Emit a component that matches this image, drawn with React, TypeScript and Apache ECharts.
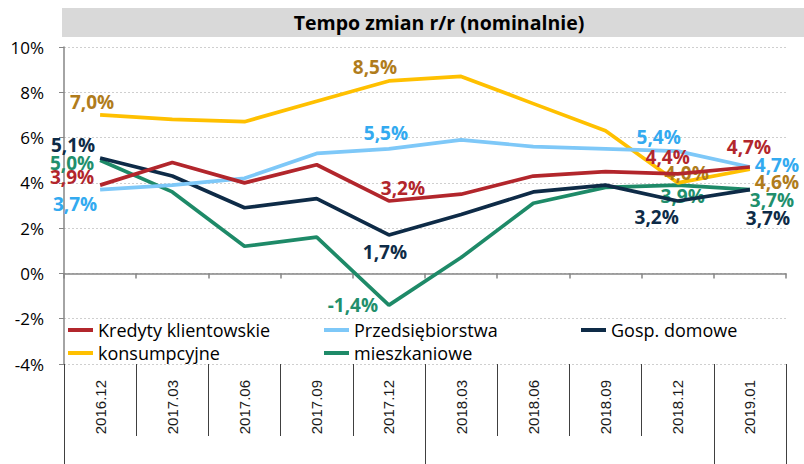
import React, { useEffect, useRef } from 'react';
import * as echarts from 'echarts';

const categories = ['2016.12', '2017.03', '2017.06', '2017.09', '2017.12', '2018.03', '2018.06', '2018.09', '2018.12', '2019.01'];
const yearStartIdx = [0, 5, 9];
const seriesNames = ['Kredyty klientowskie', 'Przedsiębiorstwa', 'Gosp. domowe', 'konsumpcyjne', 'mieszkaniowe'];
const kredyty = [3.9, 4.9, 4.0, 4.8, 3.2, 3.5, 4.3, 4.5, 4.4, 4.7];
const przedsiebiorstwa = [3.7, 3.9, 4.2, 5.3, 5.5, 5.9, 5.6, 5.5, 5.4, 4.7];
const gospDomowe = [5.1, 4.3, 2.9, 3.3, 1.7, 2.6, 3.6, 3.9, 3.2, 3.7];
const konsumpcyjne = [7.0, 6.8, 6.7, 7.6, 8.5, 8.7, 7.5, 6.3, 4.0, 4.6];
const mieszkaniowe = [5.0, 3.6, 1.2, 1.6, -1.4, 0.7, 3.1, 3.8, 3.9, 3.7];
const yMin = -4;
const yMax = 10;
const yStep = 2;
const titleText = 'Tempo zmian r/r (nominalnie)';

// label placement (style): index -> [dx, dy]
const labelOffsets: Record<number, [number, number]>[] = [
  { 0: [-28, -8], 4: [14, -13], 8: [-10, -17], 9: [-1, -20] },
  { 0: [-25, 14], 4: [-3, -16], 8: [-19, -14], 9: [27, -2] },
  { 0: [-27, -13], 4: [-4, 17], 8: [-21, 16], 9: [18, 28] },
  { 0: [-8, -13], 4: [-14, -14], 8: [9, -10], 9: [27, 13] },
  { 0: [-28, 3], 4: [-36, 0], 8: [5, 11], 9: [22, 10] },
];
const lineColors = ['#b2262c', '#7ec8f8', '#0e2b47', '#ffc000', '#1e8a68'];
const labelColors = ['#b2262c', '#33aaf0', '#0e2b47', '#b07c1c', '#218f6c'];
const legendPos = [
  { left: 68, top: 320 },
  { left: 324, top: 320 },
  { left: 581, top: 320 },
  { left: 68, top: 343 },
  { left: 324, top: 343 },
];

const FONT = 'Open Sans';

export default function App() {
  const ref = useRef<HTMLDivElement>(null);
  useEffect(() => {
    document.body.style.margin = '0';
    if (!ref.current) return;
    const chart = echarts.init(ref.current, null, { renderer: 'svg' });
    const values = [kredyty, przedsiebiorstwa, gospDomowe, konsumpcyjne, mieszkaniowe];
    const fmt = (v: number) => v.toFixed(1).replace('.', ',') + '%';
    const series = values.map((arr, si) => ({
      name: seriesNames[si],
      type: 'line',
      xAxisIndex: 0,
      yAxisIndex: 0,
      symbol: 'circle',
      symbolSize: 0.1,
      showSymbol: true,
      itemStyle: { color: lineColors[si] },
      lineStyle: { color: lineColors[si], width: 3.7 },
      label: { show: false },
      z: 10 - si,
      data: arr.map((v, i) => {
        const off = labelOffsets[si][i];
        if (!off) return { value: v };
        return {
          value: v,
          label: {
            show: true,
            position: 'inside',
            offset: off,
            formatter: () => fmt(v),
            color: labelColors[si],
            fontFamily: FONT,
            fontWeight: 'bold',
            fontSize: 19,
          },
        };
      }),
    }));
    const legends = seriesNames.map((n, i) => ({
      data: [{ name: n, icon: 'rect' }],
      left: legendPos[i].left,
      top: legendPos[i].top,
      itemWidth: 25,
      itemHeight: 4,
      padding: 0,
      selectedMode: false,
      textStyle: { fontFamily: FONT, fontSize: 18, lineHeight: 20, color: '#000', padding: [0, 0, 0, 0] },
    }));
    chart.setOption({
      animation: false,
      backgroundColor: '#fff',
      graphic: [
        { type: 'rect', shape: { x: 62, y: 8, width: 742, height: 29 }, style: { fill: '#d9d9d9' }, z: 0 },
        {
          type: 'text',
          x: 439,
          y: 22,
          style: {
            text: titleText,
            fill: '#000',
            font: `bold 19.5px "${FONT}"`,
            textAlign: 'center',
            textVerticalAlign: 'middle',
          },
          z: 1,
        },
      ],
      legend: legends,
      grid: { left: 64, right: 18, top: 47, bottom: 100, containLabel: false },
      xAxis: [
        {
          type: 'category',
          data: categories,
          axisLine: { show: true, onZero: true, lineStyle: { color: '#868686', width: 1.5 } },
          axisTick: { show: true, length: 5, interval: 0, lineStyle: { color: '#868686', width: 1.5 } },
          axisLabel: { show: false },
          splitLine: { show: false },
          z: 5,
        },
        {
          type: 'category',
          data: categories,
          position: 'bottom',
          axisLine: { show: false, onZero: false },
          axisTick: { show: true, length: 72, interval: 0, lineStyle: { color: '#404040', width: 1 } },
          axisLabel: { show: true, rotate: 90, margin: 16, interval: 0, fontFamily: 'Liberation Sans, Arial, sans-serif', fontSize: 15, color: '#1a1a1a' },
          splitLine: { show: false },
        },
        {
          type: 'category',
          data: categories,
          position: 'bottom',
          axisLine: { show: false, onZero: false },
          axisTick: {
            show: true,
            length: 100,
            interval: (i: number) => yearStartIdx.includes(i),
            lineStyle: { color: '#404040', width: 1 },
          },
          axisLabel: { show: false },
          splitLine: { show: false },
        },
      ],
      yAxis: {
        type: 'value',
        min: yMin,
        max: yMax,
        interval: yStep,
        axisLine: { show: true, lineStyle: { color: '#868686', width: 1.5 } },
        axisTick: { show: true, length: 5, lineStyle: { color: '#868686' } },
        axisLabel: { formatter: '{value}%', fontFamily: FONT, fontSize: 17, color: '#000', margin: 20 },
        splitLine: { show: true, lineStyle: { color: '#cfcfcf', type: [2, 2], width: 1 } },
      },
      series,
    });
    return () => chart.dispose();
  }, []);
  return <div ref={ref} style={{ width: 804, height: 464 }} />;
}
